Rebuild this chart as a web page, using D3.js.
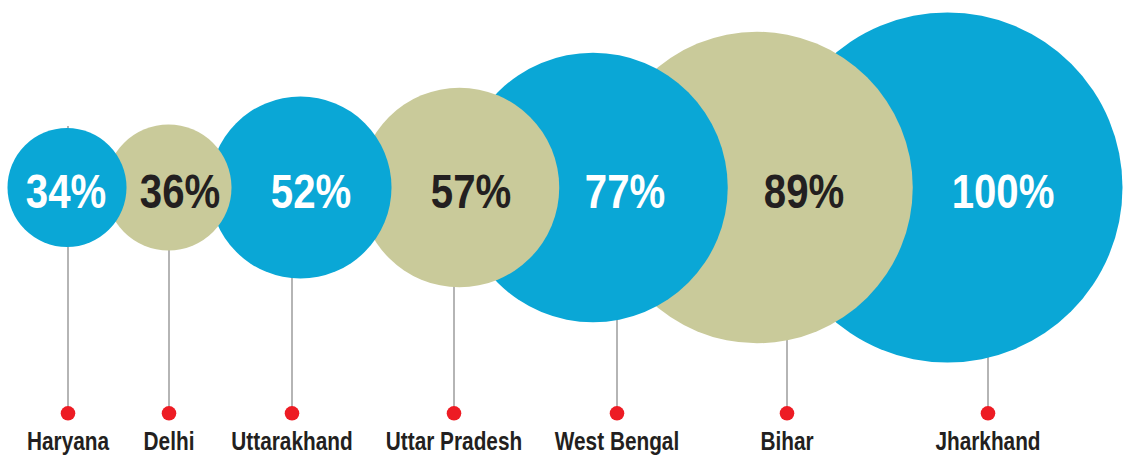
<!DOCTYPE html>
<html>
<head>
<meta charset="utf-8">
<script src="https://cdn.jsdelivr.net/npm/d3@7"></script>
<style>
  body { margin: 0; background: #fff; }
  svg { display: block; }
</style>
</head>
<body>
<script>
// data
var states = ["Haryana", "Delhi", "Uttarakhand", "Uttar Pradesh", "West Bengal", "Bihar", "Jharkhand"];
var values = [34, 36, 52, 57, 77, 89, 100];

// layout on a 1128px design grid (circles are hand-placed, overlapping)
var stemPos = [68, 169, 292, 454, 617, 787, 988];
var circlePos = [67, 168.5, 300.5, 459.5, 593, 757, 947.5];
var valuePos = [66, 180, 311, 471, 625, 804, 1003];

var width = 1128;
var height = 456;
var centerY = 187.5;
var dotY = 413.3;
var labelY = 450;

var blue = "#0aa7d6";
var khaki = "#c9ca9a";
var dark = "#231f20";
var font = "'Liberation Sans', Arial, sans-serif"; // no condensed font installed, squeeze a normal one

var svg = d3.select("body")
  .append("svg")
  .attr("width", width)
  .attr("height", height);

var xScale = d3.scaleLinear()
  .domain([0, 1128])
  .range([0, width]);

var rScale = d3.scaleLinear()
  .domain([0, 100])
  .range([0, 175]);

var data = states.map(function (s, i) {
  return { state: s, value: values[i], i: i };
});

var stemTop = centerY - rScale(d3.min(values)) - 2;

// stems + dots
svg.append("g").selectAll("line")
  .data(data)
  .enter()
  .append("line")
  .attr("x1", d => xScale(stemPos[d.i]))
  .attr("x2", d => xScale(stemPos[d.i]))
  .attr("y1", stemTop)
  .attr("y2", dotY)
  .attr("stroke", "#a3a3a3")
  .attr("stroke-width", 1.6);

svg.append("g").selectAll("circle")
  .data(data)
  .enter()
  .append("circle")
  .attr("cx", d => xScale(stemPos[d.i]))
  .attr("cy", dotY)
  .attr("r", 7.3)
  .attr("fill", "#ed1c24");

// bubbles, biggest first so smaller ones sit on top
var bubbles = data.slice().sort((a, b) => b.value - a.value);

svg.append("g").selectAll("circle")
  .data(bubbles)
  .enter()
  .append("circle")
  .attr("cx", d => xScale(circlePos[d.i]))
  .attr("cy", centerY)
  .attr("r", d => rScale(d.value))
  .attr("fill", d => d.i % 2 == 0 ? blue : khaki);

svg.append("g").selectAll("text")
  .data(data)
  .enter()
  .append("text")
  .attr("transform", d => "translate(" + xScale(valuePos[d.i]) + ",208) scale(0.82,1)")
  .attr("text-anchor", "middle")
  .attr("font-family", font)
  .attr("font-weight", "bold")
  .attr("font-size", 49)
  .attr("fill", d => d.i % 2 == 0 ? "#fff" : dark)
  .text(d => d.value + "%");

svg.append("g").selectAll("text")
  .data(data)
  .enter()
  .append("text")
  .attr("transform", d => "translate(" + xScale(stemPos[d.i]) + "," + labelY + ") scale(0.8,1)")
  .attr("text-anchor", "middle")
  .attr("font-family", font)
  .attr("font-weight", "bold")
  .attr("font-size", 26)
  .attr("fill", dark)
  .text(d => d.state);
</script>
</body>
</html>
